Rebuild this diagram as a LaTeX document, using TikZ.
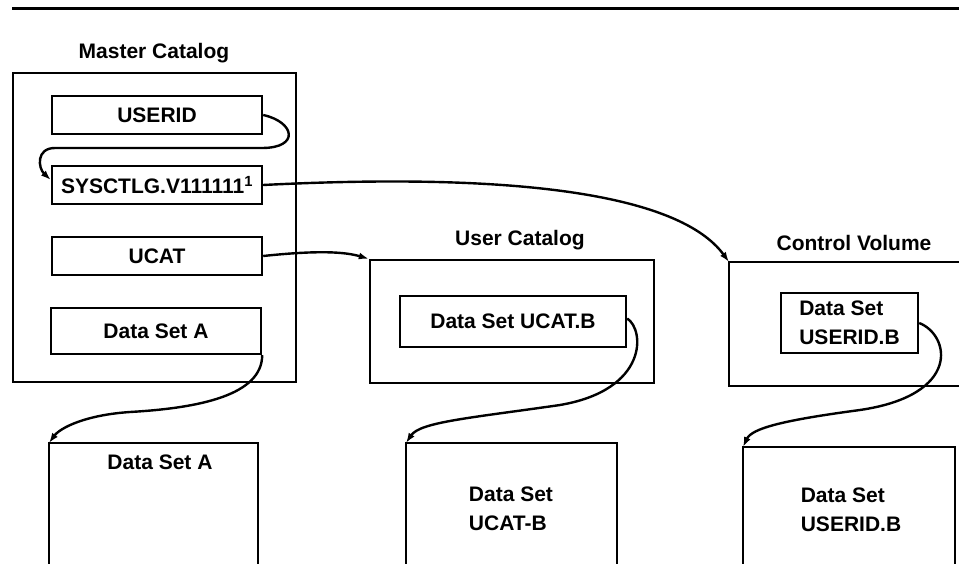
\documentclass[tikz,border=0pt]{standalone}
\usepackage{fontspec}
\setmainfont{Liberation Sans}
\usetikzlibrary{arrows.meta}

\begin{document}
\begin{tikzpicture}[x=1pt, y=-1pt, line width=2.4pt,
  every node/.style={font=\bfseries\fontsize{21}{29}\selectfont},
  entry/.style={draw, minimum width=210pt, minimum height=38pt, inner sep=0pt},
  catbox/.style={draw, inner sep=0pt},
  link/.style={-{Latex[length=10pt,width=7pt]}}]
  \useasboundingbox (0,0) rectangle (959,564);
  \draw[line width=3pt] (12,9) -- (959,9); % top rule

  % master catalog
  \node[catbox, minimum width=283pt, minimum height=309pt] (mcat) at (154.5,227.5) {};
  \node (mcatlbl) at (154,53) {Master Catalog};
  \node[entry] (userid) at (157,115) {USERID};
  \node[entry] (sysctlg) at (157,185) {SYSCTLG.V111111\textsuperscript{1}};
  \node[entry] (ucat) at (157,256) {UCAT};
  \node[entry, minimum height=46pt] (dsa) at (156,331) {Data Set A};

  % user catalog
  \node[catbox, minimum width=284pt, minimum height=123pt] (ucatbox) at (512,321.5) {};
  \node (ucatlbl) at (520,240) {User Catalog};
  \node[entry, minimum width=226pt, minimum height=51pt] (ucatb) at (513,321.5) {Data Set UCAT.B};

  % control volume (open to the right)
  \coordinate (cv) at (729,262);
  \draw (959,262) -- (cv) -- (729,386) -- (959,386);
  \node (cvlbl) at (854,243) {Control Volume};
  \node[entry, minimum width=137pt, minimum height=60pt, align=left] (uidb) at (849.5,323) {Data Set\\USERID.B};

  % data sets on the volumes (open at the bottom)
  \coordinate (dsabot) at (49,443);
  \draw (49,564) -- (dsabot) -- (258,443) -- (258,564);
  \node (dsabotlbl) at (160,462) {Data Set A};

  \coordinate (ucatbbot) at (406,443);
  \draw (406,564) -- (ucatbbot) -- (617,443) -- (617,564);
  \node[align=left] (ucatbbotlbl) at (511,509) {Data Set\\UCAT-B};

  \coordinate (uidbbot) at (743,447);
  \draw (743,564) -- (uidbbot) -- (955,447) -- (955,564);
  \node[align=left] (uidbbotlbl) at (851,510) {Data Set\\USERID.B};

  % pointers
  \draw[link] (userid.east) .. controls (295,122) and (300,148) .. (262,148)
    -- (55,148) .. controls (36,148) and (38,168) .. ([yshift=5pt]sysctlg.west);
  \draw[link] (sysctlg.east) .. controls (520,172) and (680,195) .. (cv);
  \draw[link] (ucat.east) .. controls (320,250) and (345,252) .. (ucatbox.north west);
  \draw[link] (dsa.south east) .. controls (262,395) and (200,408) .. (130,412)
    .. controls (85,415) and (60,428) .. (dsabot);
  \draw[link] ([yshift=3pt]ucatb.east) .. controls (645,330) and (648,390) .. (560,405)
    .. controls (470,418) and (420,422) .. (ucatbbot);
  \draw[link] (uidb.east) .. controls (950,335) and (962,395) .. (860,410)
    .. controls (785,420) and (752,428) .. (uidbbot);
\end{tikzpicture}
\end{document}
